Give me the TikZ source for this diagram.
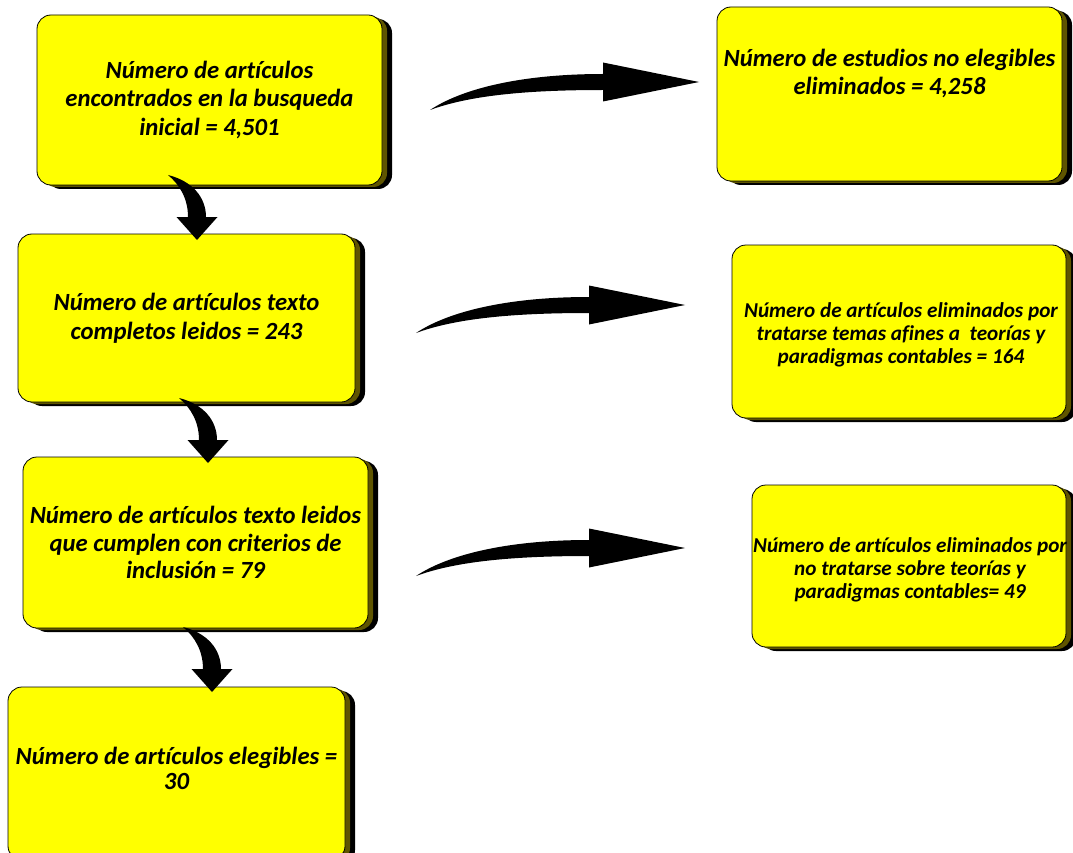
\documentclass[tikz,border=0pt]{standalone}
\usepackage{fontspec}
\setmainfont{Carlito}[Ligatures=NoCommon]
\usetikzlibrary{shadows}
\definecolor{boxyellow}{RGB}{255,255,0}
\definecolor{shadeolive}{RGB}{95,85,0}
\tikzset{
  box/.style={draw=black, line width=0.8pt, fill=boxyellow, rounded corners=14pt,
    inner sep=0pt,
    general shadow={shadow xshift=10pt, shadow yshift=-4pt, fill=black, rounded corners=14pt},
    general shadow={shadow xshift=5pt, shadow yshift=-2pt, fill=shadeolive, rounded corners=14pt}},
  big/.style={align=center, inner sep=0pt, font=\bfseries\itshape\fontsize{24.7}{#1}\selectfont},
  small/.style={align=center, inner sep=0pt, font=\bfseries\itshape\fontsize{21.2}{#1}\selectfont},
  rarrow/.pic={\fill[black] (-173,28) .. controls (-140,6) and (-80,-8) .. (0,-8)
      -- (0,-19.5) -- (96,0) -- (0,19.5) -- (0,8)
      .. controls (-80,8) and (-135,14) .. (-173,28) -- cycle;},
  darrow/.pic={\fill[black] (-29,-42) .. controls (-5,-36) and (9,-20) .. (9,0)
      -- (20.5,0) -- (0,23) -- (-20.5,0) -- (-9,0)
      .. controls (-9,-18) and (-17,-32) .. (-29,-42) -- cycle;}
}
\begin{document}
\begin{tikzpicture}[x=1pt,y=-1pt]
\useasboundingbox (0,0) rectangle (1073,853);
% left column
\node[box, minimum width=345pt, minimum height=170pt] (b1) at (209.5,100) {};
\node[big=28.5] (b1t) at (b1.center) {Número de artículos\\encontrados en la busqueda\\inicial = 4,501};
\node[box, minimum width=337pt, minimum height=168pt] (b2) at (186.5,318) {};
\node[big=29] (b2t) at (b2.center) {Número de artículos texto\\completos leidos = 243};
\node[box, minimum width=345pt, minimum height=171pt] (b3) at (195.5,542.5) {};
\node[big=27.5] (b3t) at (b3.center) {Número de artículos texto leidos\\que cumplen con criterios de\\inclusión = 79};
\node[box, minimum width=337pt, minimum height=173pt] (b4) at (176.5,773.5) {};
\node[big=25] (b4t) at (176.5,768) {Número de artículos elegibles =\\30};
% right column
\node[box, minimum width=345pt, minimum height=174pt] (r1) at (889.5,94) {};
\node[big=28] (r1t) at (889.5,74) {Número de estudios no elegibles\\eliminados = 4,258};
\node[box, minimum width=334pt, minimum height=173pt] (r2) at (899,331.5) {};
\node[small=23] (r2t) at (901,335) {Número de artículos eliminados por\\tratarse temas afines a\ \ teorías y\\paradigmas contables = 164};
\node[box, minimum width=314pt, minimum height=162pt] (r3) at (909,566) {};
\node[small=23] (r3t) at (910,570) {Número de artículos eliminados por\\no tratarse sobre teorías y\\paradigmas contables= 49};
% arrows
\coordinate (d1) at (197,217);
\coordinate (d2) at (208,440);
\coordinate (d3) at (212,669);
\coordinate (h1) at (603,82);
\coordinate (h2) at (589,305);
\coordinate (h3) at (589,548);
\pic at (d1) {darrow};
\pic at (d2) {darrow};
\pic at (d3) {darrow};
\pic at (h1) {rarrow};
\pic at (h2) {rarrow};
\pic at (h3) {rarrow};
\end{tikzpicture}
\end{document}
